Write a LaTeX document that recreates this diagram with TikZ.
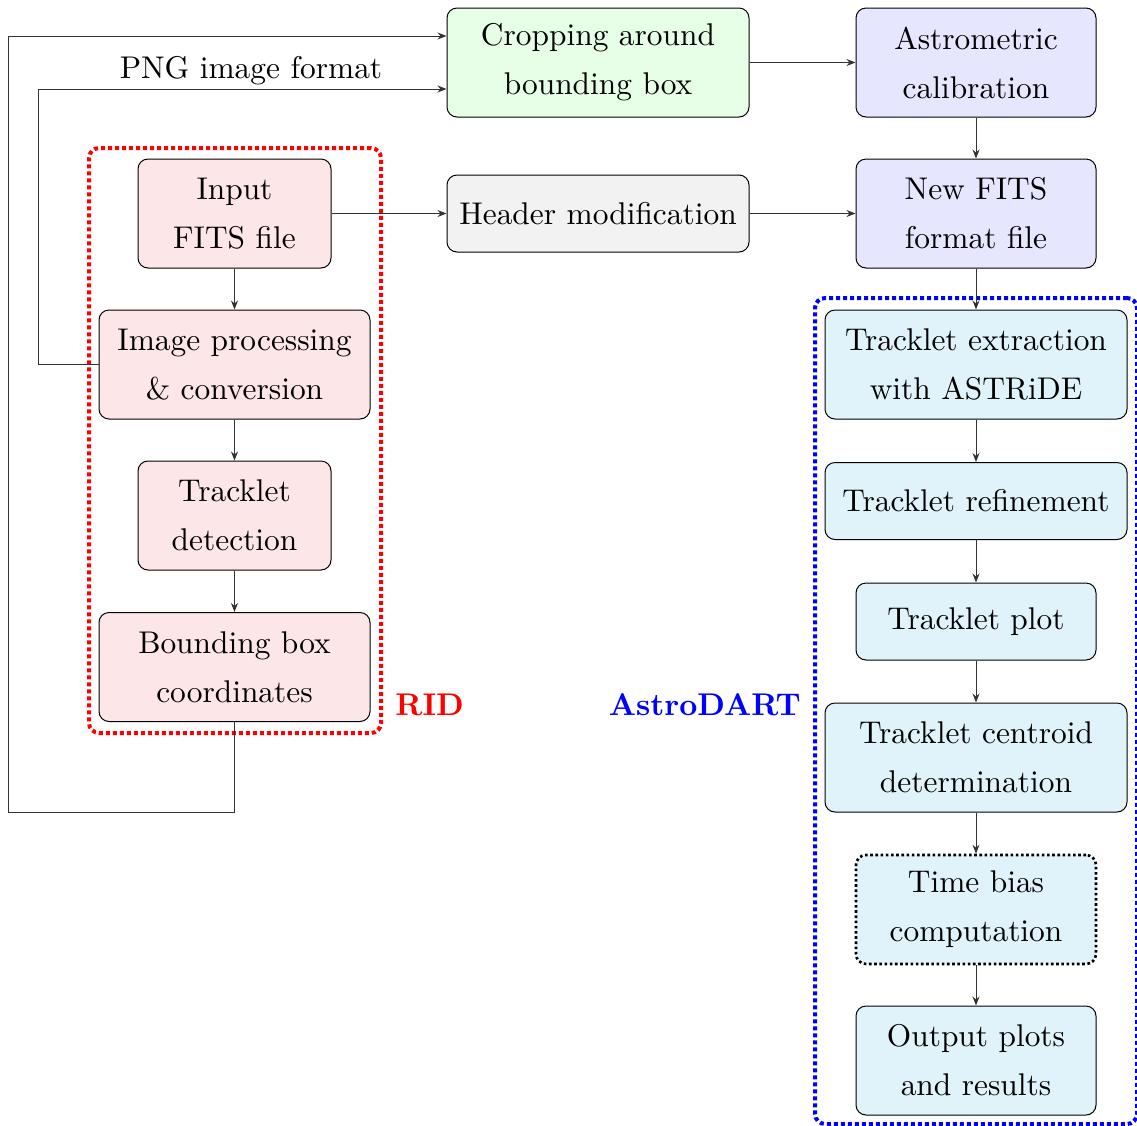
\documentclass[tikz,border=0pt]{standalone}
\usepackage{fontspec}
\setmainfont{lmroman10-regular.otf}[BoldFont=lmroman10-bold.otf, ItalicFont=lmroman10-italic.otf]
\usetikzlibrary{arrows.meta}

\definecolor{pinkfill}{RGB}{253,230,231}
\definecolor{greenfill}{RGB}{230,255,230}
\definecolor{lavfill}{RGB}{230,230,255}
\definecolor{greyfill}{RGB}{242,242,242}
\definecolor{cyanfill}{RGB}{224,242,250}

\tikzset{
  every node/.style={font=\fontsize{15.7pt}{24.5pt}\selectfont},
  procbox/.style={draw=black, line width=0.5pt, rounded corners=5pt,
    align=center, inner sep=2pt},
  tall/.style={minimum height=54.5pt},
  short/.style={minimum height=38.5pt},
  arr/.style={-{Stealth[length=4.5pt,width=3.5pt]}, line width=0.5pt, draw=black!80},
  groupbox/.style={line width=2pt, dash pattern=on 2pt off 1.5pt,
    rounded corners=5pt, inner sep=0pt},
  grouplabel/.style={font=\fontsize{15.7pt}{24.5pt}\selectfont\bfseries, inner sep=0pt}
}

\begin{document}
\begin{tikzpicture}[x=0.5pt,y=-0.5pt]
\useasboundingbox (0,0) rectangle (1137,1126);

% group frames
\node[groupbox, draw=red, minimum width=146pt, minimum height=292.5pt] (ridframe) at (235,440.5) {};
\node[groupbox, draw=blue, minimum width=161pt, minimum height=413pt] (dartframe) at (976,711) {};

% top row
\node[procbox, tall, fill=greenfill, minimum width=151pt] (crop) at (598,62.5) {Cropping around\\bounding box};
\node[procbox, tall, fill=lavfill, minimum width=120pt] (astro) at (976,62.5) {Astrometric\\calibration};

% second row
\node[procbox, tall, fill=pinkfill, minimum width=96.5pt] (input) at (234.5,213.5) {Input\\FITS file};
\node[procbox, short, fill=greyfill, minimum width=151pt] (header) at (598,213.5) {Header modification};
\node[procbox, tall, fill=lavfill, minimum width=120pt] (newfits) at (976,213.5) {New FITS\\format file};

% RID column
\node[procbox, tall, fill=pinkfill, minimum width=135.5pt] (improc) at (234.5,364.5) {Image processing\\\& conversion};
\node[procbox, tall, fill=pinkfill, minimum width=96.5pt] (detect) at (234.5,515.5) {Tracklet\\detection};
\node[procbox, tall, fill=pinkfill, minimum width=135.5pt] (bbox) at (234.5,667) {Bounding box\\coordinates};

% AstroDART column
\node[procbox, tall, fill=cyanfill, minimum width=151pt] (extract) at (976,364.5) {Tracklet extraction\\with ASTRiDE};
\node[procbox, short, fill=cyanfill, minimum width=151pt] (refine) at (976,501) {Tracklet refinement};
\node[procbox, short, fill=cyanfill, minimum width=120pt] (tplot) at (976,621.5) {Tracklet plot};
\node[procbox, tall, fill=cyanfill, minimum width=151pt] (centroid) at (976,757.5) {Tracklet centroid\\determination};
\node[procbox, tall, fill=cyanfill, minimum width=120pt, line width=1.3pt, dash pattern=on 1.3pt off 1.3pt] (tbias) at (976,909.5) {Time bias\\computation};
\node[procbox, tall, fill=cyanfill, minimum width=120pt] (output) at (976,1060.5) {Output plots\\and results};

% group labels
\node[grouplabel, text=red, anchor=base west] (ridlabel) at (395,715) {RID};
\node[grouplabel, text=blue, anchor=base east] (dartlabel) at (801,715) {AstroDART};

% feedback routes
\coordinate (outA) at (234.5,812);
\coordinate (outB) at (8,812);
\coordinate (outC) at (8,36);
\coordinate (inA) at (38,364.5);
\coordinate (inB) at (38,89);

\draw[arr] (bbox.south) -- (outA) -- (outB) -- (outC) -- (crop.west |- outC);
\draw[arr] (improc.west) -- (inA) -- (inB) -- (crop.west |- inB);
\node[anchor=base] (pnglabel) at (251,78) {PNG image format};

% main flow
\draw[arr] (crop) -- (astro);
\draw[arr] (astro) -- (newfits);
\draw[arr] (input) -- (header);
\draw[arr] (header) -- (newfits);
\draw[arr] (newfits) -- (extract);
\draw[arr] (input) -- (improc);
\draw[arr] (improc) -- (detect);
\draw[arr] (detect) -- (bbox);
\draw[arr] (extract) -- (refine);
\draw[arr] (refine) -- (tplot);
\draw[arr] (tplot) -- (centroid);
\draw[arr] (centroid) -- (tbias);
\draw[arr] (tbias) -- (output);
\end{tikzpicture}
\end{document}
